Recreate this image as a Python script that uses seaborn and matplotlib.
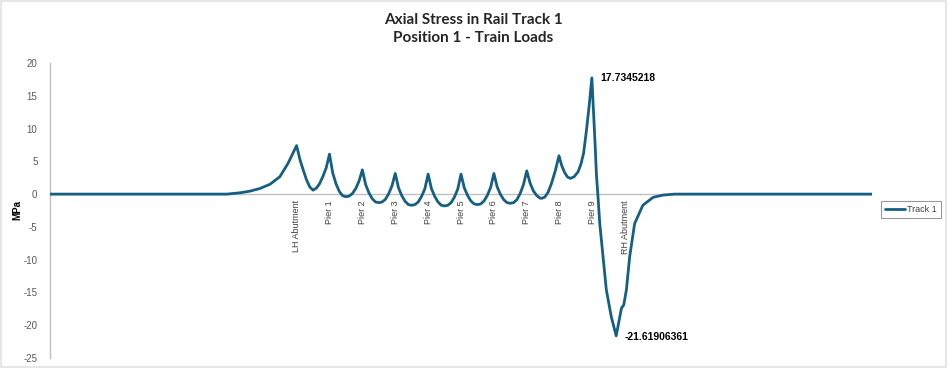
import matplotlib
matplotlib.use("Agg")
import matplotlib.pyplot as plt
import seaborn as sns
import pandas as pd
from matplotlib.patches import Rectangle
from matplotlib.lines import Line2D

# ---- data ----
chainage = [0.0, 53.8, 57.8, 60.8, 63.8, 66.9, 69.9, 72.4, 75.0,
            76, 77, 78, 79, 80, 81, 82, 83, 84, 85,
            86, 87, 88, 89, 90, 91, 92, 93, 94, 95,
            96, 97, 98, 99, 100, 101, 102, 103, 104, 105,
            106, 107, 108, 109, 110, 111, 112, 113, 114, 115,
            116, 117, 118, 119, 120, 121, 122, 123, 124, 125,
            126, 127, 128, 129, 130, 131, 132, 133, 134, 135,
            136, 137, 138, 139, 140, 141, 142, 143, 144, 145,
            146, 147, 148, 149, 149.5, 150.5, 151.5, 152.5, 153.7, 154.8,
            155.6, 156.5, 157.4, 158.3, 159.4, 160.6, 161.5, 162.3, 163.1, 163.9,
            164.8, 165.2, 165.7, 166.2, 166.7, 167.2, 168.2, 169.2, 170.7,
            172.2, 172.7, 173.8, 174.5, 175.3, 176.3, 177.8, 180.3, 183.4, 186.4,
            190.0, 250.0]
stress = [0.0, 0.0, 0.2, 0.45, 0.85, 1.5, 2.65, 4.7, 7.4,
          5.3, 3.7, 2.2, 1.1, 0.6, 0.9, 1.6, 2.7, 4.0, 6.1,
          3.2, 1.55, 0.4, -0.25, -0.4, -0.3, 0.1, 0.85, 2.0, 3.7,
          1.45, 0.2, -0.7, -1.2, -1.3, -1.2, -0.8, 0.05, 1.25, 3.15,
          0.95, -0.25, -1.1, -1.6, -1.7, -1.6, -1.2, -0.35, 0.8, 3.05,
          0.85, -0.35, -1.2, -1.7, -1.8, -1.7, -1.3, -0.45, 0.75, 3.05,
          0.95, -0.2, -1.05, -1.5, -1.6, -1.5, -1.05, -0.2, 1.0, 3.15,
          1.1, -0.05, -0.85, -1.3, -1.4, -1.3, -0.85, 0.1, 1.45, 3.55,
          1.7, 0.5, -0.2, -0.6, -0.65, -0.45, 0.3, 1.6, 3.6, 5.85,
          4.4, 3.3, 2.6, 2.4, 2.65, 3.4, 4.6, 6.3, 9.5, 13.1,
          17.7345218, 13.6, 8.5, 2.9, -0.65, -4.5, -9.55, -14.6, -18.7,
          -21.61906361, -20.3, -17.4, -16.9, -14.6, -9.55, -4.5, -1.7, -0.5, -0.15,
          0.0, 0.0]
support_pos = [75, 85, 95, 105, 115, 125, 135, 145, 155, 165, 175]
support_labels = ["LH Abutment", "Pier 1", "Pier 2", "Pier 3", "Pier 4", "Pier 5",
                  "Pier 6", "Pier 7", "Pier 8", "Pier 9", "RH Abutment"]
y_ticks = [-25, -20, -15, -10, -5, 0, 5, 10, 15, 20]
series_name = "Track 1"
title_text = "Axial Stress in Rail Track 1\nPosition 1 - Train Loads"
y_label = "MPa"

df = pd.DataFrame({"Chainage": chainage, "Stress": stress, "Series": series_name})

sns.set_style("white")
plt.rcParams["font.family"] = ["Liberation Sans", "DejaVu Sans"]

W, H = 947, 368
fig = plt.figure(figsize=(W / 100, H / 100), dpi=100)
fig.patch.set_facecolor("white")
ax = fig.add_axes([50 / W, 1 - 358 / H, (872 - 50) / W, (358 - 63) / H])
ax.set_facecolor("none")

line_color = "#156082"
ax.axhline(0, color="#c0c0c0", lw=1.0, zorder=1)
sns.lineplot(data=df, x="Chainage", y="Stress", hue="Series", palette=[line_color],
             linewidth=2.0, ax=ax, legend=False, zorder=3, sort=False,
             solid_joinstyle="round", solid_capstyle="round")

ax.set_xlim(0, 250)
ax.set_ylim(-25, 20)
ax.set_yticks(y_ticks)
ax.set_yticklabels([str(v) for v in y_ticks], fontsize=7, color="#595959")
ax.tick_params(axis="y", length=0, pad=9)
ax.set_xticks([])
ax.set_xlabel("")
ax.set_ylabel(y_label, fontsize=7, fontweight="bold", color="#000000", labelpad=1)

for s in ["top", "right", "bottom"]:
    ax.spines[s].set_visible(False)
ax.spines["left"].set_color("#c0c0c0")
ax.spines["left"].set_linewidth(1.0)

for pos, lab in zip(support_pos, support_labels):
    ax.annotate(lab, xy=(pos, 0), xytext=(0, -4.5), textcoords="offset points",
                rotation=90, ha="center", va="top", fontsize=6.5, color="#404040")

imax = stress.index(max(stress))
imin = stress.index(min(stress))
ax.annotate(f"{stress[imax]:.7f}", xy=(chainage[imax], stress[imax]), xytext=(6, 0),
            textcoords="offset points", ha="left", va="center", fontsize=7.5,
            fontweight="bold", color="#000000")
ax.annotate(f"{stress[imin]:.8f}", xy=(chainage[imin], stress[imin]), xytext=(6, -1),
            textcoords="offset points", ha="left", va="center", fontsize=7.5,
            fontweight="bold", color="#000000")

fig.text(473 / W, 1 - 29 / H, title_text, ha="center", va="center", fontsize=11,
         fontweight="bold", family=["Lato", "DejaVu Sans"], linespacing=1.35)

handle = Line2D([], [], color=line_color, lw=2.0)
leg = fig.legend([handle], [series_name], loc="center",
                 bbox_to_anchor=(911 / W, 1 - 209.5 / H),
                 fontsize=6.5, frameon=True, fancybox=False, edgecolor="#808080",
                 handlelength=2.2, handletextpad=0.3, borderpad=0.4, borderaxespad=0,
                 labelcolor="#404040")
leg.get_frame().set_linewidth(0.8)

fig.patches.append(Rectangle((0, 0), 1, 1, transform=fig.transFigure, fill=False,
                             edgecolor="#e6e6e6", lw=3, zorder=10))

fig.savefig("out.png", dpi=100)
